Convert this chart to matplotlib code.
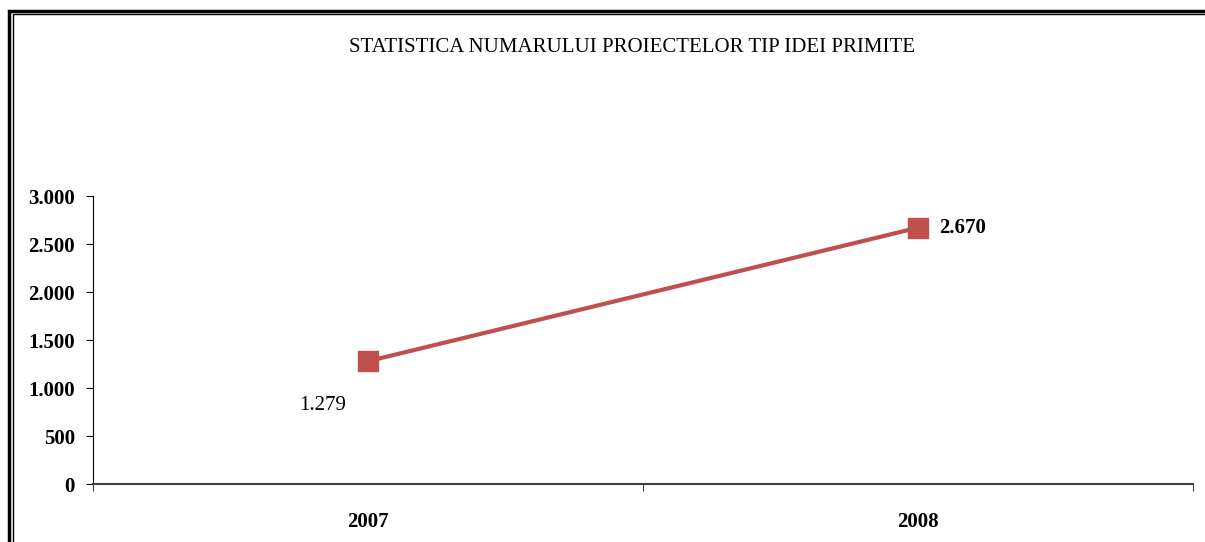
import matplotlib.pyplot as plt
from matplotlib.patches import Rectangle

years = ['2007', '2008']
proiecte = [1279, 2670]
etichete = ['1.279', '2.670']
y_ticks = [0, 500, 1000, 1500, 2000, 2500, 3000]
y_labels = ['0', '500', '1.000', '1.500', '2.000', '2.500', '3.000']

plt.rcParams['font.family'] = 'Liberation Serif'

fig = plt.figure(figsize=(12.05, 5.42), dpi=100)
ax = fig.add_axes([93 / 1205, 1 - 484 / 542, 1100 / 1205, 288 / 542])

x = list(range(len(years)))
ax.plot(x, proiecte, color='#C0504D', linewidth=3, marker='s', markersize=14.5)

# etichete de date
ax.annotate(etichete[0], (x[0], proiecte[0]), xytext=(-33, -32),
            textcoords='offset points', ha='center', va='center',
            fontsize=15)
ax.annotate(etichete[1], (x[1], proiecte[1]), xytext=(32, 0),
            textcoords='offset points', ha='center', va='center',
            fontsize=15, fontweight='bold')

ax.set_xlim(-0.5, len(years) - 0.5)
ax.set_ylim(0, 3000)
ax.set_yticks(y_ticks)
ax.set_yticklabels(y_labels, fontsize=15, fontweight='bold')
ax.set_xticks([-0.5, 0.5, 1.5])
ax.set_xticklabels([])
ax.set_xticks(x, minor=True)
ax.set_xticklabels(years, minor=True, fontsize=15, fontweight='bold')
ax.tick_params(axis='x', which='minor', length=0, pad=20)
ax.tick_params(axis='x', which='major', length=5, direction='out', colors='#404040')
ax.tick_params(axis='y', length=5, direction='out', pad=8)
ax.spines['top'].set_visible(False)
ax.spines['right'].set_visible(False)
ax.spines['left'].set_color('black')
ax.spines['bottom'].set_color('#404040')
ax.spines['bottom'].set_linewidth(1.5)

fig.text(632 / 1205, 1 - 47 / 542, 'STATISTICA NUMARULUI PROIECTELOR TIP IDEI PRIMITE',
         ha='center', va='center', fontsize=15)

# chenar dublu (taiat in dreapta si jos)
fig.patches.append(Rectangle((9 / 1205, -0.1), 1.2, 1.1 - 11 / 542,
                             transform=fig.transFigure, fill=False,
                             edgecolor='black', linewidth=2.5))
fig.patches.append(Rectangle((13 / 1205, -0.1), 1.2, 1.1 - 14 / 542,
                             transform=fig.transFigure, fill=False,
                             edgecolor='black', linewidth=1))

fig.savefig('out.png', dpi=100)
